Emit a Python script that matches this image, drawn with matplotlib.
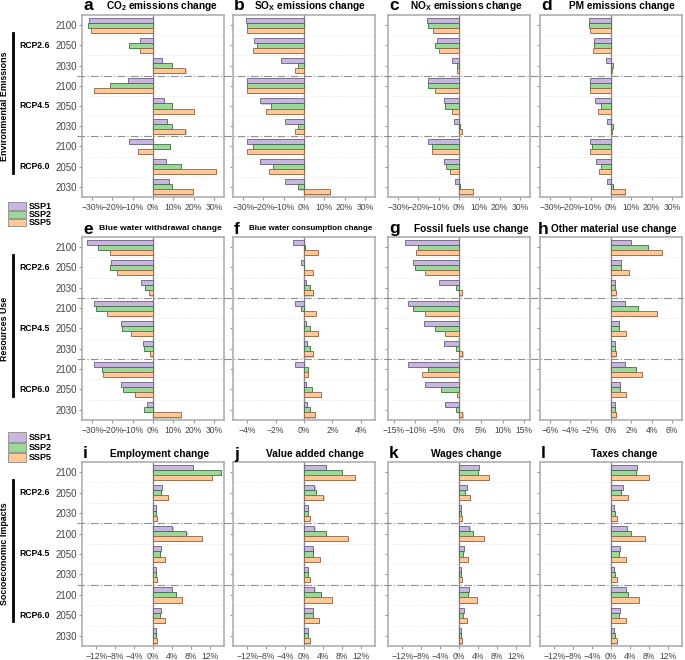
import matplotlib.pyplot as plt
import matplotlib.patheffects as pe
from matplotlib.patches import Rectangle
from matplotlib.lines import Line2D
from matplotlib.transforms import blended_transform_factory

plt.rcParams['font.family'] = ['Liberation Sans', 'DejaVu Sans']
plt.rcParams['mathtext.fontset'] = 'custom'
plt.rcParams['mathtext.rm'] = 'Liberation Sans'
plt.rcParams['mathtext.bf'] = 'Liberation Sans:bold'

# =========================
# DATA (% change)
# rows: RCP2.6 2100/2050/2030, RCP4.5 ..., RCP6.0 ...
# =========================
years = ["2100", "2050", "2030"] * 3
rcps = ["RCP2.6", "RCP4.5", "RCP6.0"]
ssps = ["SSP1", "SSP2", "SSP5"]

co2_ssp1 = [-31.6, -6.4, 4.6, -12.2, 5.5, 7.0, -11.7, 6.5, 7.8]
co2_ssp2 = [-31.8, -11.7, 9.5, -21.0, 9.5, 9.5, 8.5, 13.9, 9.5]
co2_ssp5 = [-30.8, -6.4, 16.0, -29.2, 20.4, 16.0, -7.3, 31.0, 19.7]

sox_ssp1 = [-28.7, -24.5, -11.1, -27.9, -21.9, -9.5, -28.0, -21.5, -9.3]
sox_ssp2 = [-28.2, -23.3, -2.9, -27.9, -16.5, -2.9, -25.0, -15.2, -2.9]
sox_ssp5 = [-28.2, -25.0, -4.4, -27.9, -18.9, -4.2, -27.9, -17.5, 12.7]

nox_ssp1 = [-16.0, -10.9, -3.3, -15.5, -7.5, -2.3, -15.5, -7.5, -2.1]
nox_ssp2 = [-15.3, -11.9, -1.1, -15.3, -7.0, 0.5, -13.5, -6.2, 0.5]
nox_ssp5 = [-13.0, -10.1, -1.1, -11.6, -3.6, 1.5, -13.4, -4.2, 6.9]

pm_ssp1 = [-10.9, -8.6, -2.4, -10.3, -7.7, -2.0, -10.3, -7.3, -2.0]
pm_ssp2 = [-10.8, -8.2, 0.8, -10.3, -4.9, 0.8, -9.3, -4.7, 0.8]
pm_ssp5 = [-10.4, -9.0, 0.3, -10.4, -6.4, 0.3, -10.3, -5.7, 6.9]

bww_ssp1 = [-32.6, -20.8, -6.1, -29.0, -15.9, -4.9, -29.1, -16.0, -3.1]
bww_ssp2 = [-27.2, -21.1, -3.8, -28.3, -15.2, -4.4, -25.2, -14.7, -4.4]
bww_ssp5 = [-21.3, -17.8, -2.0, -22.7, -10.6, -1.5, -24.5, -8.7, 13.6]

bwc_ssp1 = [-0.77, -0.21, 0.16, -0.65, 0.14, 0.21, -0.63, 0.14, 0.21]
bwc_ssp2 = [0.07, 0.02, 0.40, -0.21, 0.42, 0.40, 0.28, 0.56, 0.40]
bwc_ssp5 = [0.98, 0.63, 0.65, 0.84, 0.98, 0.63, 0.28, 1.21, 0.77]

fossil_ssp1 = [-12.3, -10.5, -4.6, -11.8, -8.0, -3.5, -11.7, -7.9, -3.3]
fossil_ssp2 = [-9.5, -10.0, -0.8, -10.5, -5.5, -0.8, -7.2, -4.1, -0.8]
fossil_ssp5 = [-9.8, -7.7, 0.6, -7.9, -3.2, 0.8, -8.5, -0.4, 0.8]

material_ssp1 = [2.0, 0.95, 0.36, 1.34, 0.82, 0.36, 1.34, 0.85, 0.36]
material_ssp2 = [3.6, 0.95, 0.36, 2.62, 0.82, 0.36, 2.46, 0.85, 0.36]
material_ssp5 = [5.0, 1.74, 0.52, 4.5, 1.44, 0.52, 3.08, 1.44, 0.52]

employ_ssp1 = [8.5, 1.9, 0.64, 4.1, 1.7, 0.64, 3.95, 1.7, 0.64]
employ_ssp2 = [14.3, 1.7, 0.64, 7.06, 1.5, 0.64, 4.9, 1.5, 0.64]
employ_ssp5 = [12.4, 3.25, 0.85, 10.4, 2.6, 0.85, 6.2, 2.5, 0.85]

value_ssp1 = [4.7, 2.2, 0.9, 2.2, 1.8, 0.9, 2.2, 1.8, 0.9]
value_ssp2 = [8.0, 2.5, 0.9, 4.6, 1.9, 0.9, 3.5, 1.9, 0.9]
value_ssp5 = [10.8, 4.1, 1.3, 9.2, 3.4, 1.3, 5.9, 3.2, 1.3]

wages_ssp1 = [4.2, 1.7, 0.42, 2.2, 1.05, 0.42, 2.1, 1.05, 0.42]
wages_ssp2 = [4.0, 1.3, 0.42, 2.9, 0.9, 0.42, 1.9, 0.9, 0.42]
wages_ssp5 = [6.3, 2.4, 0.63, 5.2, 1.8, 0.63, 3.85, 1.7, 0.63]

taxes_ssp1 = [5.45, 2.6, 0.63, 3.3, 1.9, 0.63, 3.15, 1.9, 0.63]
taxes_ssp2 = [5.2, 2.1, 0.84, 4.3, 1.6, 0.84, 3.6, 1.6, 0.84]
taxes_ssp5 = [8.0, 3.6, 1.2, 7.1, 3.1, 1.2, 5.9, 3.1, 1.2]

# =========================
# PANEL SETTINGS
# =========================
ticks_30 = [-30, -20, -10, 0, 10, 20, 30]
ticks_12 = [-12, -8, -4, 0, 4, 8, 12]

panels = [
    # letter, title, title size, title x, xlim, ticks, data
    ("a", r"CO$_\mathbf{2}$ emissions change", 7.3, 162, 35, ticks_30,
     (co2_ssp1, co2_ssp2, co2_ssp5)),
    ("b", r"SO$_\mathbf{X}$ emissions change", 7.3, 310, 35, ticks_30,
     (sox_ssp1, sox_ssp2, sox_ssp5)),
    ("c", r"NO$_\mathbf{X}$ emissions change", 7.3, 466, 35, ticks_30,
     (nox_ssp1, nox_ssp2, nox_ssp5)),
    ("d", "PM emissions change", 7.3, 622, 35, ticks_30,
     (pm_ssp1, pm_ssp2, pm_ssp5)),
    ("e", "Blue water withdrawal change", 6.1, 160, 35, ticks_30,
     (bww_ssp1, bww_ssp2, bww_ssp5)),
    ("f", "Blue water consumption change", 5.8, 311, 5, [-4, -2, 0, 2, 4],
     (bwc_ssp1, bwc_ssp2, bwc_ssp5)),
    ("g", "Fossil fuels use change", 7.3, 471, 16.3, [-15, -10, -5, 0, 5, 10, 15],
     (fossil_ssp1, fossil_ssp2, fossil_ssp5)),
    ("h", "Other material use change", 7.2, 614, 7, [-6, -4, -2, 0, 2, 4, 6],
     (material_ssp1, material_ssp2, material_ssp5)),
    ("i", "Employment change", 7.3, 160, 15, ticks_12,
     (employ_ssp1, employ_ssp2, employ_ssp5)),
    ("j", "Value added change", 7.3, 315, 15, ticks_12,
     (value_ssp1, value_ssp2, value_ssp5)),
    ("k", "Wages change", 7.3, 466, 15, ticks_12,
     (wages_ssp1, wages_ssp2, wages_ssp5)),
    ("l", "Taxes change", 7.3, 624, 15, ticks_12,
     (taxes_ssp1, taxes_ssp2, taxes_ssp5)),
]

group_names = ["Environmental Emissions", "Resources Use", "Socioeconomic Impacts"]

# =========================
# STYLE
# =========================
fills = ["#C7B6DD", "#9DD89B", "#FFC896"]
edges = ["#6A5E7C", "#3F6E42", "#8E6444"]
offsets = [-0.25, 0.0, 0.25]
bar_h = 0.25

W, H = 685, 660
col_left = [82, 233, 388, 540]
col_w = 142
row_top = [15, 237, 462]
row_bot = [197, 420, 646]
title_y = [6, 229, 454]


def fig_rect(x0, y0, x1, y1):
    return [x0 / W, 1 - y1 / H, (x1 - x0) / W, (y1 - y0) / H]


def pct(v):
    return f"{v}%".replace("-", "\u2212")


fig = plt.figure(figsize=(W / 100, H / 100), dpi=100)

shadow = [
    pe.SimplePatchShadow(offset=(0.8, -0.8), shadow_rgbFace="#9a9a9a", alpha=0.5),
    pe.Normal()
]

row_axes = []

# =========================
# PANELS
# =========================
for k, (letter, title, tsize, tx, lim, ticks, data) in enumerate(panels):

    r, c = divmod(k, 4)

    ax = fig.add_axes(fig_rect(col_left[c], row_top[r],
                               col_left[c] + col_w, row_bot[r]))

    if c == 0:
        row_axes.append(ax)

    y = list(range(9))

    for s in range(3):
        bars = ax.barh(
            [v + offsets[s] for v in y],
            data[s],
            height=bar_h,
            color=fills[s],
            edgecolor=edges[s],
            linewidth=0.6,
            zorder=3
        )
        for b in bars:
            b.set_path_effects(shadow)

    ax.axvline(0, color="#8c8c8c", linewidth=1.0, zorder=2)

    # light row separators
    for yy in [0.5, 1.5, 3.5, 4.5, 6.5, 7.5]:
        ax.axhline(yy, color="#dcdcdc", linewidth=0.5,
                   linestyle=(0, (1, 1.5)), zorder=1)

    ax.set_xlim(-lim, lim)
    ax.set_ylim(8.5, -0.5)

    ax.set_xticks(ticks)
    ax.set_xticklabels([pct(t) for t in ticks])
    ax.set_yticks(y)

    if c == 0:
        ax.set_yticklabels(years)
    else:
        ax.set_yticklabels([])

    ax.tick_params(axis="x", labelsize=6.2, labelcolor="#444444",
                   length=2, color="#999999", pad=2)
    ax.tick_params(axis="y", labelsize=7.0, labelcolor="#444444",
                   length=2, color="#999999", pad=1.5)

    for sp in ax.spines.values():
        sp.set_color("#a8a8a8")
        sp.set_linewidth(1.1)

    # panel letter and title
    fig.text(col_left[c] + 1 - (3 if letter == "h" else 0), H - title_y[r],
             letter, transform=None, fontsize=12.5, fontweight="bold",
             ha="left", va="center")
    fig.text(tx / W, 1 - title_y[r] / H, title, fontsize=tsize,
             fontweight="bold", ha="center", va="center")

# =========================
# RCP SEPARATORS, LABELS
# =========================
for r, ax in enumerate(row_axes):

    tr = blended_transform_factory(fig.transFigure, ax.transData)

    for yy in [2.5, 5.5]:
        fig.add_artist(Line2D(
            [77 / W, 683 / W], [yy, yy],
            transform=tr, color="#8f8f8f", linewidth=0.8,
            linestyle=(0, (7, 2, 1, 2)), zorder=5
        ))

    for g, name in enumerate(rcps):
        fig.text(19 / W, 3 * g + 1, name, transform=tr,
                 fontsize=6.2, fontweight="bold", ha="left", va="center")

    fig.add_artist(Line2D(
        [12.7 / W, 12.7 / W], [0.4, 7.3],
        transform=tr, color="black", linewidth=2.0
    ))

    fig.text(5 / W, 1 - (row_top[r] + row_bot[r]) / 2 / H, group_names[r],
             rotation=90, fontsize=6.4, fontweight="bold",
             ha="center", va="center")

# =========================
# LEGENDS
# =========================
for top, step in [(202.3, 8.3), (432.3, 10.3)]:
    for s in range(3):
        y0 = top + s * step
        fig.add_artist(Rectangle(
            (8 / W, 1 - (y0 + step - 0.8) / H),
            18 / W, (step - 0.8) / H,
            transform=fig.transFigure,
            facecolor=fills[s], edgecolor="#8a8a8a", linewidth=0.6
        ))
        fig.text(29 / W, 1 - (y0 + step / 2 - 0.4) / H, ssps[s],
                 fontsize=6.5, fontweight="bold", ha="left", va="center")

fig.savefig("out.png", dpi=100)
